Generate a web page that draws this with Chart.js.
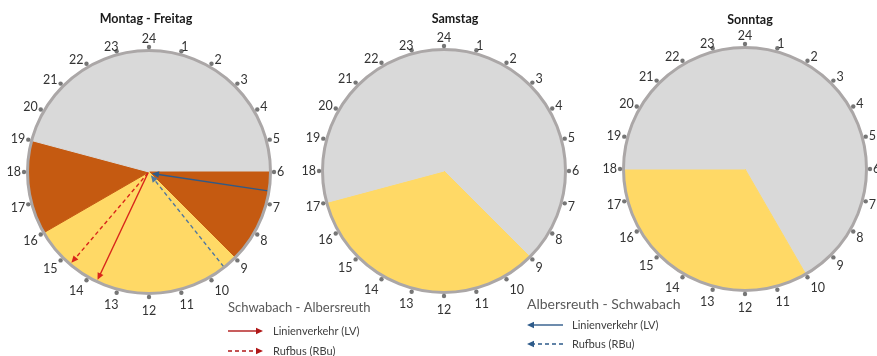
<!DOCTYPE html>
<html>
<head>
<meta charset="utf-8">
<script src="https://cdn.jsdelivr.net/npm/chart.js@4"></script>
<style>
  html, body { margin: 0; padding: 0; background: #fff; }
  #wrap { position: relative; width: 877px; height: 356px; overflow: hidden; }
  #wrap canvas { position: absolute; left: 0; top: 0; }
</style>
</head>
<body>
<div id="wrap">
  <canvas id="c-mf" width="877" height="356"></canvas>
  <canvas id="c-sa" width="877" height="356"></canvas>
  <canvas id="c-so" width="877" height="356"></canvas>
</div>
<script>
// Uhr-Beschriftung (24 oben, dann im Uhrzeigersinn)
const hourTicks = ["24", "1", "2", "3", "4", "5", "6", "7", "8", "9", "10", "11",
  "12", "13", "14", "15", "16", "17", "18", "19", "20", "21", "22", "23"];

// Stunden je Abschnitt ab 0 Uhr, und welche Bedienart
const mfHours = [6, 3, 7, 3, 5];
const mfKind = ["keine", "LV", "RBu", "LV", "keine"];
const saHours = [9, 8, 7];
const saKind = ["keine", "RBu", "keine"];
const soHours = [10, 8, 6];
const soKind = ["keine", "RBu", "keine"];

// Pfeile Mo-Fr (Uhrzeit in Stunden)
const mfArrowHours = [13.7, 14.7, 6.6, 9.45];
const mfArrowDir = ["hin", "hin", "rueck", "rueck"];
const mfArrowType = ["LV", "RBu", "LV", "RBu"];

const kindColor = { keine: "#d9d9d9", LV: "#c55a11", RBu: "#ffd966" };
const arrowColor = { hin: "#d8261a", rueck: "#2f5a88" };
const legendColor = { hin: "#b01818", rueck: "#2e5b8a" };

const W = 877, H = 356, R = 122;
const FONT = "Lato, 'Open Sans', sans-serif";

function drawArrow(ctx, x1, y1, x2, y2, color, dashed) {
  const ang = Math.atan2(y2 - y1, x2 - x1);
  const hl = 7, hw = 3.2;
  ctx.strokeStyle = color;
  ctx.fillStyle = color;
  ctx.lineWidth = 1.4;
  ctx.setLineDash(dashed ? [4, 3] : []);
  ctx.beginPath();
  ctx.moveTo(x1, y1);
  ctx.lineTo(x2 - Math.cos(ang) * hl * 0.7, y2 - Math.sin(ang) * hl * 0.7);
  ctx.stroke();
  ctx.setLineDash([]);
  ctx.beginPath();
  ctx.moveTo(x2, y2);
  ctx.lineTo(x2 - hl * Math.cos(ang) + hw * Math.sin(ang), y2 - hl * Math.sin(ang) - hw * Math.cos(ang));
  ctx.lineTo(x2 - hl * Math.cos(ang) - hw * Math.sin(ang), y2 - hl * Math.sin(ang) + hw * Math.cos(ang));
  ctx.closePath();
  ctx.fill();
}

const clockPlugin = {
  id: "clock",
  afterDatasetsDraw(chart, args, opts) {
    const ctx = chart.ctx;
    const arc = chart.getDatasetMeta(0).data[0];
    const cx = arc.x, cy = arc.y, r = arc.outerRadius;
    ctx.save();

    // Pfeile
    (opts.arrowHours || []).forEach((h, i) => {
      const a = h / 24 * Math.PI * 2;
      const s = Math.sin(a), c = Math.cos(a);
      const dashed = opts.arrowType[i] === "RBu";
      if (opts.arrowDir[i] === "hin") {
        drawArrow(ctx, cx - 1, cy + 1, cx + s * (r - 2), cy - c * (r - 2), arrowColor.hin, dashed);
      } else {
        drawArrow(ctx, cx + s * (r - 1), cy - c * (r - 1), cx + s * 3, cy - c * 3 + 1,
          dashed ? "#4f77a0" : arrowColor.rueck, dashed);
      }
    });

    // Rand
    ctx.beginPath();
    ctx.arc(cx, cy, r, 0, Math.PI * 2);
    ctx.lineWidth = 3;
    ctx.strokeStyle = "#aba7a7";
    ctx.stroke();

    // Stundenpunkte und Beschriftung
    ctx.font = "12.5px " + FONT;
    ctx.textAlign = "center";
    ctx.textBaseline = "alphabetic";
    hourTicks.forEach((label, i) => {
      const a = i / 24 * Math.PI * 2;
      const s = Math.sin(a), c = Math.cos(a);
      const px = cx + s * (r + 3.5), py = cy - c * (r + 3.5);
      ctx.fillStyle = "#767676";
      ctx.beginPath();
      ctx.arc(px, py, 2.2, 0, Math.PI * 2);
      ctx.fill();
      const w = ctx.measureText(label).width;
      let lx, ly;
      if (i === 0) { lx = px; ly = py - 8; }
      else if (i === 12) { lx = px; ly = py + 14; }
      else {
        const f = Math.min(1, Math.abs(s) * 2);
        lx = px + Math.sign(s) * (3 + w / 2) * f;
        ly = py - c * (c > 0 ? 5 : 12);
      }
      ctx.fillStyle = "#333333";
      ctx.fillText(label, lx, ly + 4.4);
    });

    // Titel
    ctx.font = "bold 12.5px " + FONT;
    ctx.fillStyle = "#1a1a1a";
    ctx.fillText(opts.title, opts.titleX, opts.titleY);

    // Legende
    if (opts.legend) {
      ctx.textAlign = "left";
      ctx.textBaseline = "middle";
      opts.legend.forEach(lg => {
        ctx.font = lg.size + "px " + FONT;
        ctx.fillStyle = "#595959";
        ctx.fillText(lg.title, lg.x, lg.y);
        lg.items.forEach((txt, k) => {
          const y = lg.itemY[k];
          const dashed = k === 1;
          if (lg.dir === "hin") drawArrow(ctx, lg.x, y, lg.x + 35, y, legendColor.hin, dashed);
          else drawArrow(ctx, lg.x + 36, y, lg.x, y, legendColor.rueck, dashed);
          ctx.font = "11px " + FONT;
          ctx.fillStyle = "#404040";
          ctx.fillText(txt, lg.x + 45, y);
        });
      });
    }
    ctx.restore();
  }
};

function makeChart(id, hours, kinds, cx, cy, plugOpts) {
  const colors = kinds.map(k => kindColor[k]);
  return new Chart(document.getElementById(id), {
    type: "pie",
    data: {
      labels: kinds,
      datasets: [{
        data: hours,
        backgroundColor: colors,
        borderColor: colors,
        borderWidth: 1,
        hoverOffset: 0,
        offset: 0,
      }],
    },
    options: {
      responsive: false,
      animation: false,
      events: [],
      layout: {
        padding: { left: cx - R, right: W - cx - R, top: cy - R, bottom: H - cy - R },
      },
      plugins: {
        legend: { display: false },
        tooltip: { enabled: false },
        title: { display: false },
        clock: plugOpts,
      },
    },
    plugins: [clockPlugin],
  });
}

makeChart("c-mf", mfHours, mfKind, 149, 172, {
  title: "Montag - Freitag", titleX: 146, titleY: 23,
  arrowHours: mfArrowHours, arrowDir: mfArrowDir, arrowType: mfArrowType,
  legend: [
    { title: "Schwabach - Albersreuth", x: 228, y: 308, size: 13, dir: "hin",
      items: ["Linienverkehr (LV)", "Rufbus (RBu)"], itemY: [331, 351] },
    { title: "Albersreuth - Schwabach", x: 527, y: 304, size: 14, dir: "rueck",
      items: ["Linienverkehr (LV)", "Rufbus (RBu)"], itemY: [325, 344] },
  ],
});
makeChart("c-sa", saHours, saKind, 444, 171, { title: "Samstag", titleX: 455, titleY: 23 });
makeChart("c-so", soHours, soKind, 745, 169, { title: "Sonntag", titleX: 750, titleY: 24 });
</script>
</body>
</html>
